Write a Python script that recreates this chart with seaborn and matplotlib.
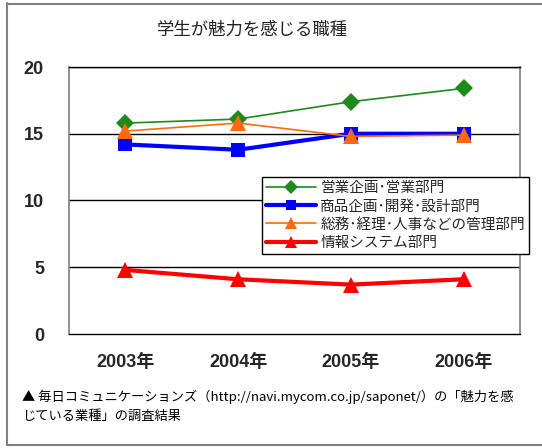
import matplotlib
matplotlib.use("Agg")
import matplotlib.pyplot as plt
import seaborn as sns
import pandas as pd
from matplotlib.lines import Line2D

sns.set_theme(style="white")
plt.rcParams['font.family'] = ['Noto Sans CJK JP', 'DejaVu Sans']

years = ["2003年", "2004年", "2005年", "2006年"]
series_names = ["営業企画･営業部門", "商品企画･開発･設計部門", "総務･経理･人事などの管理部門", "情報システム部門"]
sales = [15.8, 16.1, 17.4, 18.4]
product = [14.2, 13.8, 15.0, 15.0]
admin = [15.2, 15.8, 14.8, 14.9]
it_dept = [4.8, 4.1, 3.7, 4.1]
title = "学生が魅力を感じる職種"
caption = "▲ 毎日コミュニケーションズ（http://navi.mycom.co.jp/saponet/）の「魅力を感\nじている業種」の調査結果"

values = [sales, product, admin, it_dept]
colors = ["#1E8A1E", "#0000FF", "#FF6A10", "#FF0000"]
markers = ["D", "s", "^", "^"]
lws = [1.2, 3.0, 1.2, 3.0]
msizes = [9, 10, 11, 11]

fig = plt.figure(figsize=(5.42, 4.48), dpi=100)
ax = fig.add_axes([69/542, 1-334/448, (520-69)/542, (334-67)/448])

for name, vals, c, m, lw, ms in zip(series_names, values, colors, markers, lws, msizes):
    df = pd.DataFrame({"x": range(len(years)), "y": vals})
    sns.lineplot(data=df, x="x", y="y", ax=ax, color=c, marker=m, linewidth=lw,
                 markersize=ms, markeredgewidth=0, label=name, legend=False)

ax.set_xlim(-0.5, 3.5)
ax.set_ylim(0, 20)
ax.set_yticks([0, 5, 10, 15, 20])
ax.set_xticks(range(len(years)))
ax.set_xticklabels(years)
ax.set_xlabel("")
ax.set_ylabel("")
for yv in [5, 10, 15, 20]:
    ax.axhline(yv, color="black", linewidth=1.0, zorder=0)
for s in ["left", "right"]:
    ax.spines[s].set_color("#808080")
    ax.spines[s].set_linewidth(1.2)
ax.spines["bottom"].set_color("black")
ax.spines["top"].set_color("black")
ax.spines["bottom"].set_linewidth(1.0)
ax.spines["top"].set_linewidth(1.0)
ax.tick_params(axis="both", length=0)
ax.tick_params(axis="y", pad=18)
ax.tick_params(axis="x", pad=14)
for lab in ax.get_yticklabels() + ax.get_xticklabels():
    lab.set_fontfamily(['Liberation Sans', 'Noto Sans CJK JP'])
    lab.set_fontweight("bold")
    lab.set_fontsize(13)

handles = [Line2D([0], [0], color=c, marker=m, linewidth=lw, markersize=ms*0.75, markeredgewidth=0)
           for c, m, lw, ms in zip(colors, markers, lws, msizes)]
leg = fig.legend(handles, series_names, loc="upper left",
                 bbox_to_anchor=(262/542, 1-177/448), fontsize=10.5,
                 frameon=True, fancybox=False, framealpha=1, edgecolor="black",
                 handlelength=3.4, handletextpad=0.3, labelspacing=0.28,
                 borderpad=0.3, borderaxespad=0)
leg.get_frame().set_linewidth(1.0)

fig.text(253/542, 1-30/448, title, ha="center", va="center", fontsize=12.5, color="#222222")
fig.text(22/542, 1-390/448, caption, ha="left", va="top", fontsize=9.5, color="black", linespacing=1.6)

# outer frame
for (x0, y0, x1, y1) in [(6.5/542, 3/448, 6.5/542, 445/448),
                         (6.5/542, 1-4/448, 1.0, 1-4/448),
                         (6.5/542, 3/448, 1.0, 3/448)]:
    fig.add_artist(Line2D([x0, x1], [y0, y1], transform=fig.transFigure, color="#808080", linewidth=1.5))

fig.savefig("out.png", dpi=100)
